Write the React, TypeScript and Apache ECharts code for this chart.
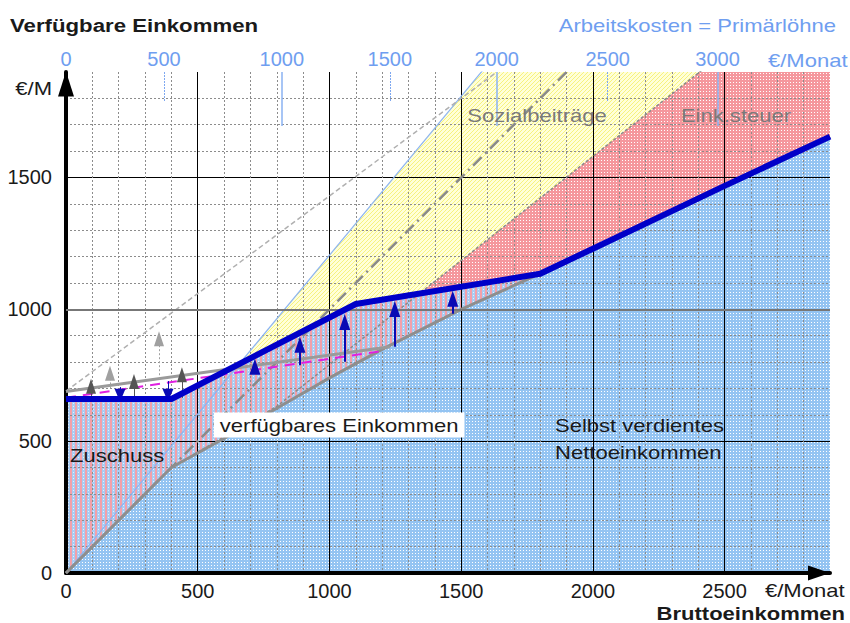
import React, { useEffect, useRef } from 'react';
import * as echarts from 'echarts';

const FONT = '"Liberation Sans", Arial, sans-serif';

// ---------- data (€/Monat) ----------
// Bruttoeinkommen -> selbst verdientes Nettoeinkommen
const netGross = [0, 400, 600, 800, 1000, 1200, 1500, 1800, 2000, 2500, 2900];
const netIncome = [0, 400, 510, 625, 740, 848, 1000, 1135, 1230, 1468, 1655];
// Bruttoeinkommen -> verfügbares Einkommen
const availGross = [0, 400, 1100, 1800, 2000, 2500, 2900];
const availIncome = [660, 660, 1020, 1135, 1230, 1468, 1655];
// Brutto minus Sozialbeiträge (Arbeitnehmer)
const afterScGross = [0, 400, 800, 2900];
const afterScValue = [0, 400, 632, 2291];
// Arbeitskosten (Brutto + Arbeitgeberbeiträge)
const laborGross = [0, 2900];
const laborValue = [0, 3495];
// Brutto-Linie
const grossLineX = [0, 2900];
const grossLineY = [0, 2900];
// graue Linie (verfügbares Einkommen, Variante)
const altGross = [0, 1230];
const altValue = [688, 858];
// magenta gestrichelt
const magentaGross = [0, 1190];
const magentaValue = [665, 840];
// grau gestrichelt oben
const dashGross = [0, 1635];
const dashValue = [690, 1900];

// Arrows
const upArrowX = [717, 888, 1058, 1248, 1468];
const upArrowFrom = [763, 788, 801, 858, 983];
const upArrowTo = [782, 866, 952, 1001, 1040];
const downArrowX = [205, 387];
const downArrowFrom = [705, 728];
const downArrowTo = [674, 674];
const darkArrowX = [95, 258, 440];
const darkArrowFrom = [664, 664, 664];
const darkArrowTo = [708, 726, 752];
const lightArrowX = [167, 353];
const lightArrowFrom = [700, 735];
const lightArrowTo = [758, 888];

// Top axis: Arbeitskosten = Primärlöhne
const laborTickGross = [0, 372, 819, 1229, 1635, 2056, 2473];
const laborTickLabels = ['0', '500', '1000', '1500', '2000', '2500', '3000'];
const laborMinorTicks = [372, 1229, 2056];
const laborMajorTicks = [819, 1635, 2473];

const pts = (xs: number[], ys: number[]) => xs.map((x, i) => [x, ys[i]]);

function pattern(w: number, h: number, draw: (ctx: CanvasRenderingContext2D) => void): any {
  const c = document.createElement('canvas');
  c.width = w;
  c.height = h;
  const ctx = c.getContext('2d')!;
  draw(ctx);
  return { image: c, repeat: 'repeat' };
}

export default function App() {
  const ref = useRef<HTMLDivElement>(null);
  useEffect(() => {
    document.body.style.margin = '0';
    const chart = echarts.init(ref.current!, null, { renderer: 'svg' });

    const bluePat = pattern(3, 3, (ctx) => {
      ctx.fillStyle = '#94c4f2';
      ctx.fillRect(0, 0, 3, 3);
      ctx.fillStyle = '#ffffff';
      ctx.fillRect(1, 1, 1, 1);
    });
    const redPat = pattern(3, 3, (ctx) => {
      ctx.fillStyle = '#f5979d';
      ctx.fillRect(0, 0, 3, 3);
      ctx.fillStyle = '#ffffff';
      ctx.fillRect(1, 1, 1, 1);
    });
    const yellowPat = pattern(4, 4, (ctx) => {
      ctx.fillStyle = '#ffffd8';
      ctx.fillRect(0, 0, 4, 4);
      ctx.fillStyle = '#f7f27e';
      for (let i = 0; i < 4; i++) ctx.fillRect(i, 3 - i, 1, 1);
    });
    const stripePat = pattern(5, 3, (ctx) => {
      ctx.fillStyle = '#f3a0aa';
      ctx.fillRect(0, 0, 2, 3);
      ctx.fillStyle = '#a8ccf3';
      ctx.fillRect(2, 0, 3, 3);
      ctx.fillStyle = '#e6f0fb';
      ctx.fillRect(3, 1, 1, 1);
    });

    const areaBase = {
      type: 'line',
      showSymbol: false,
      silent: true,
      z: 1,
      lineStyle: { width: 0, opacity: 0 },
    };
    const lineBase = { type: 'line', showSymbol: false, silent: true, z: 4 };
    const arrowSeries = (
      xs: number[], from: number[], to: number[], color: string, width: number,
      type: any, size: number[]
    ) => ({
      type: 'line',
      data: [],
      silent: true,
      z: 4,
      markLine: {
        silent: true,
        animation: false,
        symbol: ['none', 'triangle'],
        symbolSize: size,
        label: { show: false },
        emphasis: { disabled: true },
        lineStyle: { color, width, type },
        data: xs.map((x, i) => [{ coord: [x, from[i]] }, { coord: [x, to[i]] }]),
      },
    });

    const txt = (
      text: string, x: number, y: number, opts: any = {}
    ) => ({
      type: 'text',
      x,
      y,
      scaleX: opts.scaleX ?? 1.16,
      z: 100,
      silent: true,
      style: {
        text,
        fontFamily: FONT,
        fontSize: opts.fontSize ?? 19,
        fontWeight: opts.bold ? 'bold' : 'normal',
        fill: opts.color ?? '#1a1a1a',
        align: opts.align ?? 'left',
        verticalAlign: 'middle',
        backgroundColor: opts.bg,
        padding: opts.padding,
      },
    });

    const option: any = {
      animation: false,
      grid: { left: 66, right: 20, top: 72, bottom: 50, containLabel: false },
      xAxis: [
        {
          type: 'value', min: 0, max: 2900, interval: 100, position: 'bottom', z: 2,
          axisLine: {
            show: true, onZero: false,
            lineStyle: { color: '#000', width: 4 },
            symbol: ['none', 'triangle'], symbolSize: [15, 22], symbolOffset: [0, -11],
          },
          axisTick: { show: false },
          axisLabel: {
            fontSize: 20, fontFamily: FONT, color: '#1a1a1a', margin: 8,
            formatter: (v: number) => (v % 500 === 0 && v <= 2500 ? String(v) : ''),
          },
          splitLine: {
            show: true, showMinLine: false, showMaxLine: false,
            lineStyle: { color: '#8c8c8c', width: 1, type: [2, 2] },
          },
        },
        {
          type: 'value', min: 0, max: 2900, interval: 500, position: 'bottom', z: 2,
          axisLine: { show: false, onZero: false }, axisTick: { show: false }, axisLabel: { show: false },
          splitLine: {
            show: true, showMinLine: false, showMaxLine: false,
            lineStyle: { color: '#000', width: 1 },
          },
        },
        {
          type: 'value', min: 0, max: 2900, position: 'top', z: 2,
          axisLine: { show: false, onZero: false }, splitLine: { show: false },
          axisTick: {
            show: true, inside: true, length: 30, customValues: laborMinorTicks,
            lineStyle: { color: '#7ea8f0', width: 1, type: [2, 1] },
          },
          axisLabel: {
            show: true, customValues: laborTickGross, margin: 3,
            fontSize: 20, fontFamily: FONT, color: '#6f9ef0',
            formatter: (v: number) => {
              const i = laborTickGross.findIndex((g) => Math.abs(g - v) < 1);
              return i >= 0 ? laborTickLabels[i] : '';
            },
          },
        },
        {
          type: 'value', min: 0, max: 2900, position: 'top', z: 2,
          axisLine: { show: false, onZero: false }, splitLine: { show: false }, axisLabel: { show: false },
          axisTick: {
            show: true, inside: true, length: 54, customValues: laborMajorTicks,
            lineStyle: { color: '#8ab2f2', width: 1.5 },
          },
        },
      ],
      yAxis: [
        {
          type: 'value', min: 0, max: 1900, interval: 100, z: 2,
          axisLine: {
            show: true, onZero: false,
            lineStyle: { color: '#000', width: 4 },
            symbol: ['none', 'triangle'], symbolSize: [16, 25], symbolOffset: [0, -12],
          },
          axisTick: { show: false },
          axisLabel: {
            fontSize: 20, fontFamily: FONT, color: '#1a1a1a', margin: 14,
            formatter: (v: number) => (v % 500 === 0 && v < 1900 ? String(v) : ''),
          },
          splitLine: {
            show: true, showMinLine: false, showMaxLine: false,
            lineStyle: { color: '#8c8c8c', width: 1, type: [2, 2] },
          },
        },
        {
          type: 'value', min: 0, max: 1900, interval: 500, z: 2, position: 'left',
          axisLine: { show: false, onZero: false }, axisTick: { show: false }, axisLabel: { show: false },
          splitLine: {
            show: true, showMinLine: false, showMaxLine: false,
            lineStyle: { color: '#000', width: 1 },
          },
        },
      ],
      series: [
        { ...areaBase, name: 'Sozialbeiträge', data: pts(laborGross, laborValue), areaStyle: { color: yellowPat, opacity: 1 } },
        { ...areaBase, name: 'Eink.steuer', data: pts(afterScGross, afterScValue), areaStyle: { color: redPat, opacity: 1 } },
        { ...areaBase, name: 'Zuschuss', data: pts(availGross, availIncome), areaStyle: { color: stripePat, opacity: 1 } },
        { ...areaBase, name: 'Nettoeinkommen', data: pts(netGross, netIncome), areaStyle: { color: bluePat, opacity: 1 } },
        {
          type: 'line', data: [], silent: true, z: 3,
          markLine: {
            silent: true, animation: false, symbol: 'none', label: { show: false },
            lineStyle: { color: '#777', width: 2, type: 'solid' },
            data: [{ yAxis: 1000 }],
          },
        },
        { ...lineBase, data: pts(laborGross, laborValue), lineStyle: { color: '#8cb4f2', width: 1.2 } },
        { ...lineBase, data: pts(afterScGross, afterScValue), lineStyle: { color: '#8a8a8a', width: 1.5, type: [3, 2] } },
        { ...lineBase, data: pts(grossLineX, grossLineY), lineStyle: { color: '#8a8a8a', width: 2.5, type: [12, 5, 2, 5] } },
        { ...lineBase, data: pts(dashGross, dashValue), lineStyle: { color: '#b0b0b0', width: 1.5, type: [5, 3] } },
        { ...lineBase, data: pts(netGross, netIncome), lineStyle: { color: '#8e8e8e', width: 3 } },
        { ...lineBase, data: pts(altGross, altValue), lineStyle: { color: '#9a9a9a', width: 3 } },
        { ...lineBase, data: pts(magentaGross, magentaValue), lineStyle: { color: '#e020e0', width: 2, type: [10, 7] } },
        arrowSeries(lightArrowX, lightArrowFrom, lightArrowTo, '#a0a0a0', 1, [2, 2], [10, 15]),
        arrowSeries(darkArrowX, darkArrowFrom, darkArrowTo, '#555555', 1, 'solid', [10, 15]),
        arrowSeries(upArrowX, upArrowFrom, upArrowTo, '#0a0ab4', 2, 'solid', [11, 16]),
        arrowSeries(downArrowX, downArrowFrom, downArrowTo, '#0a0ab4', 1, 'solid', [11, 13]),
        { ...lineBase, z: 5, data: pts(availGross, availIncome), lineStyle: { color: '#0000c8', width: 6, join: 'round' } },
      ],
      graphic: [
        txt('Verfügbare Einkommen', 10, 25, { bold: true, scaleX: 1.17 }),
        txt('Arbeitskosten = Primärlöhne', 836, 25, { align: 'right', color: '#6f9ef0' }),
        txt('€/Monat', 768, 60, { color: '#6f9ef0' }),
        txt('€/M', 52, 88, { align: 'right' }),
        txt('€/Monat', 765, 590),
        txt('Bruttoeinkommen', 845, 613, { bold: true, align: 'right' }),
        txt('Sozialbeiträge', 537, 115, { align: 'center', color: '#7a7a7a' }),
        txt('Eink.steuer', 736, 115, { align: 'center', color: '#7a7a7a' }),
        txt('verfügbares Einkommen', 214, 425, { bg: '#ffffff', padding: [3, 5] }),
        txt('Selbst verdientes', 555, 425),
        txt('Nettoeinkommen', 555, 452),
        txt('Zuschuss', 70, 455),
      ],
    };
    chart.setOption(option);
    return () => chart.dispose();
  }, []);
  return (
    <div
      ref={ref}
      style={{ position: 'absolute', left: 0, top: 0, width: 850, height: 623 }}
    />
  );
}
